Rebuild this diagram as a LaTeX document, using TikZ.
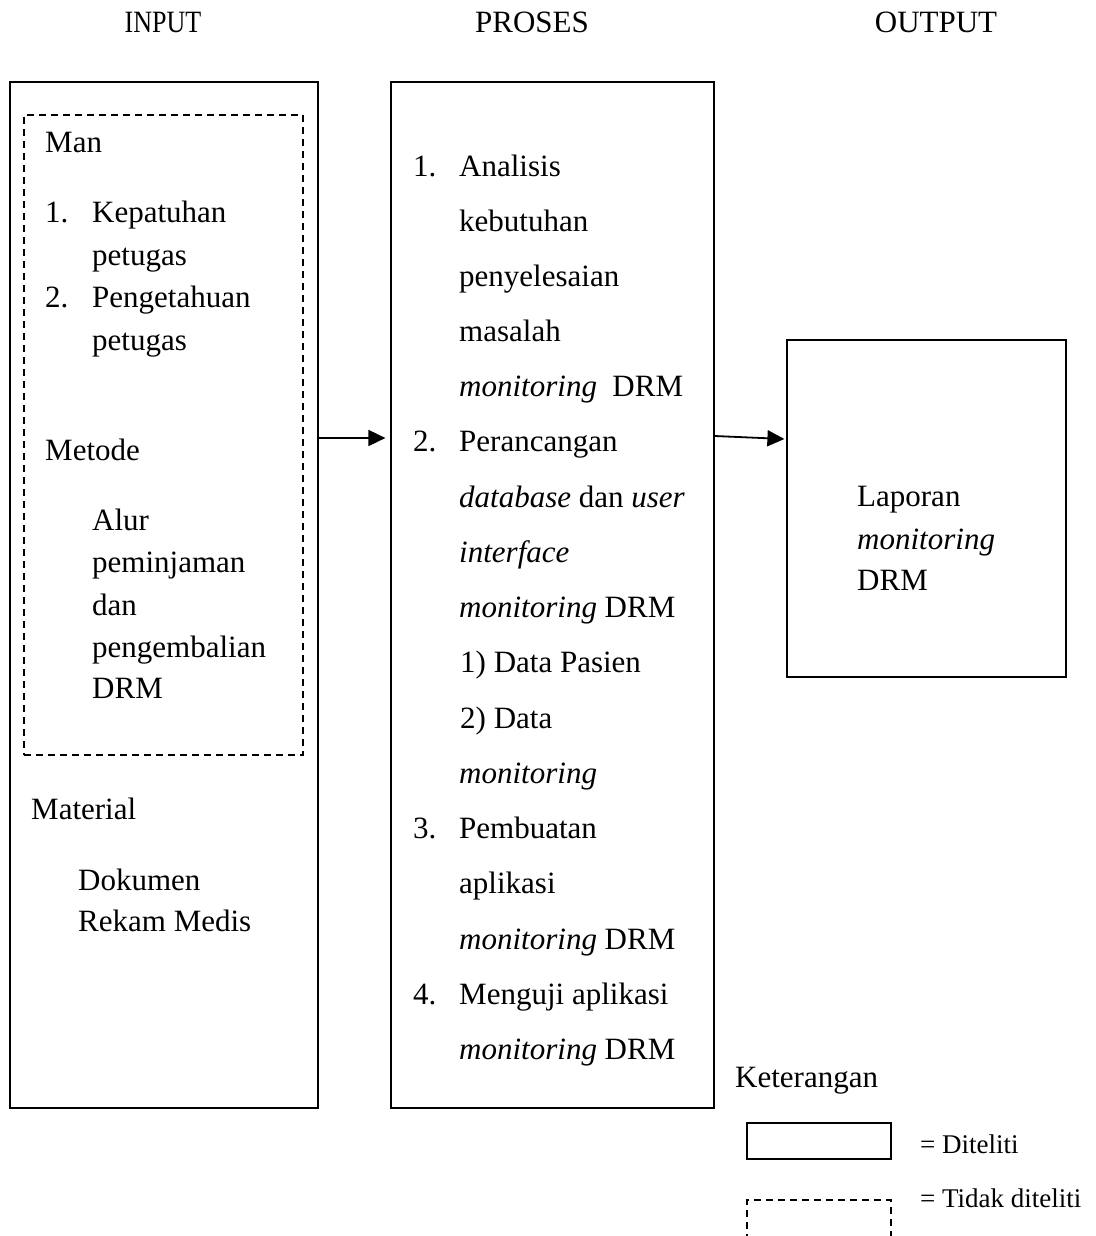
\documentclass[tikz,border=0pt]{standalone}
\usepackage{fontspec}
\setmainfont{Liberation Serif}
\usetikzlibrary{arrows.meta}

\tikzset{
  kotak/.style={draw, line width=1.2pt, inner sep=0pt},
  kotakputus/.style={draw, line width=1.2pt, dash pattern=on 7pt off 5pt, inner sep=0pt},
  teks/.style={anchor=base west, inner sep=0pt, font=\fontsize{31}{37}\selectfont},
  judul/.style={anchor=base, inner sep=0pt, font=\fontsize{31}{37}\selectfont},
  ket/.style={anchor=base west, inner sep=0pt, font=\fontsize{27}{32}\selectfont},
  panah/.style={-{Triangle[length=17pt,width=16pt]}, line width=1.8pt},
}

\begin{document}
\begin{tikzpicture}[x=1pt,y=-1pt]
	\useasboundingbox (0,0) rectangle (1095,1236);

	% Judul kolom
	\node [judul] (jinput)  at (163,33) {\scalebox{0.84}[1]{INPUT}};
	\node [judul] (jproses) at (532,33) {PROSES};
	\node [judul] (joutput) at (936,33) {OUTPUT};

	% Kotak utama
	\node [kotak, minimum width=308pt, minimum height=1026pt] (input)  at (164,595)   {};
	\node [kotakputus, minimum width=279pt, minimum height=640pt] (manmetode) at (163.5,435) {};
	\node [kotak, minimum width=323pt, minimum height=1026pt] (proses) at (552.5,595) {};
	\node [kotak, minimum width=279pt, minimum height=337pt] (output) at (926.5,508.5) {};

	% Panah
	\coordinate (pa) at (0,438);
	\coordinate (pb) at (0,436);
	\coordinate (pc) at (0,439);
	\draw [panah] (input.east |- pa) -- ([xshift=-5pt]proses.west |- pa);
	\draw [panah] (proses.east |- pb) -- ([xshift=-2pt]output.west |- pc);

	% Teks input
	\node [teks] (man)   at (45,153)  {Man};
	\node [teks] (n1)    at (45,222)  {1.};
	\node [teks] (kep)   at (92,222)  {Kepatuhan};
	\node [teks] (pet1)  at (92,265)  {petugas};
	\node [teks] (n2)    at (45,307)  {2.};
	\node [teks] (peng)  at (92,307)  {Pengetahuan};
	\node [teks] (pet2)  at (92,350)  {petugas};
	\node [teks] (met)   at (45,460)  {Metode};
	\node [teks] (alur)  at (92,530)  {Alur};
	\node [teks] (pem)   at (92,572)  {peminjaman};
	\node [teks] (dan)   at (92,615)  {dan};
	\node [teks] (pengb) at (92,657)  {pengembalian};
	\node [teks] (drm1)  at (92,698)  {DRM};
	\node [teks] (mat)   at (31,819)  {Material};
	\node [teks] (dok)   at (78,890)  {Dokumen};
	\node [teks] (rm)    at (78,931)  {Rekam Medis};

	% Teks proses
	\node [teks] (p1)  at (413,176)  {1.};
	\node [teks] (pa1) at (459,176)  {Analisis};
	\node [teks] (pa2) at (459,231)  {kebutuhan};
	\node [teks] (pa3) at (459,286)  {penyelesaian};
	\node [teks] (pa4) at (459,341)  {masalah};
	\node [teks] (pa5) at (459,396)  {\textit{monitoring}~ DRM};
	\node [teks] (p2)  at (413,451)  {2.};
	\node [teks] (pb1) at (459,451)  {Perancangan};
	\node [teks] (pb2) at (459,507)  {\textit{database} dan \textit{user}};
	\node [teks] (pb3) at (459,562)  {\textit{interface}};
	\node [teks] (pb4) at (459,617)  {\textit{monitoring} DRM};
	\node [teks] (pb5) at (460,672)  {1) Data Pasien};
	\node [teks] (pb6) at (460,728)  {2) Data};
	\node [teks] (pb7) at (459,783)  {\textit{monitoring}};
	\node [teks] (p3)  at (413,838)  {3.};
	\node [teks] (pc1) at (459,838)  {Pembuatan};
	\node [teks] (pc2) at (459,893)  {aplikasi};
	\node [teks] (pc3) at (459,949)  {\textit{monitoring} DRM};
	\node [teks] (p4)  at (413,1004) {4.};
	\node [teks] (pd1) at (459,1004) {Menguji aplikasi};
	\node [teks] (pd2) at (459,1059) {\textit{monitoring} DRM};

	% Teks output
	\node [teks] (lap)  at (857,506) {Laporan};
	\node [teks] (lmon) at (857,549) {\textit{monitoring}};
	\node [teks] (ldrm) at (857,590) {DRM};

	% Keterangan
	\node [teks] (keterangan) at (735,1087) {Keterangan};
	\node [kotak, minimum width=144pt, minimum height=36pt] (lgpenuh) at (819,1141) {};
	\node [ket] (diteliti) at (920,1153) {= Diteliti};
	\node [kotakputus, minimum width=144pt, minimum height=50pt] (lgputus) at (819,1225) {};
	\node [ket] (tidak) at (920,1207) {= Tidak diteliti};

\end{tikzpicture}
\end{document}
